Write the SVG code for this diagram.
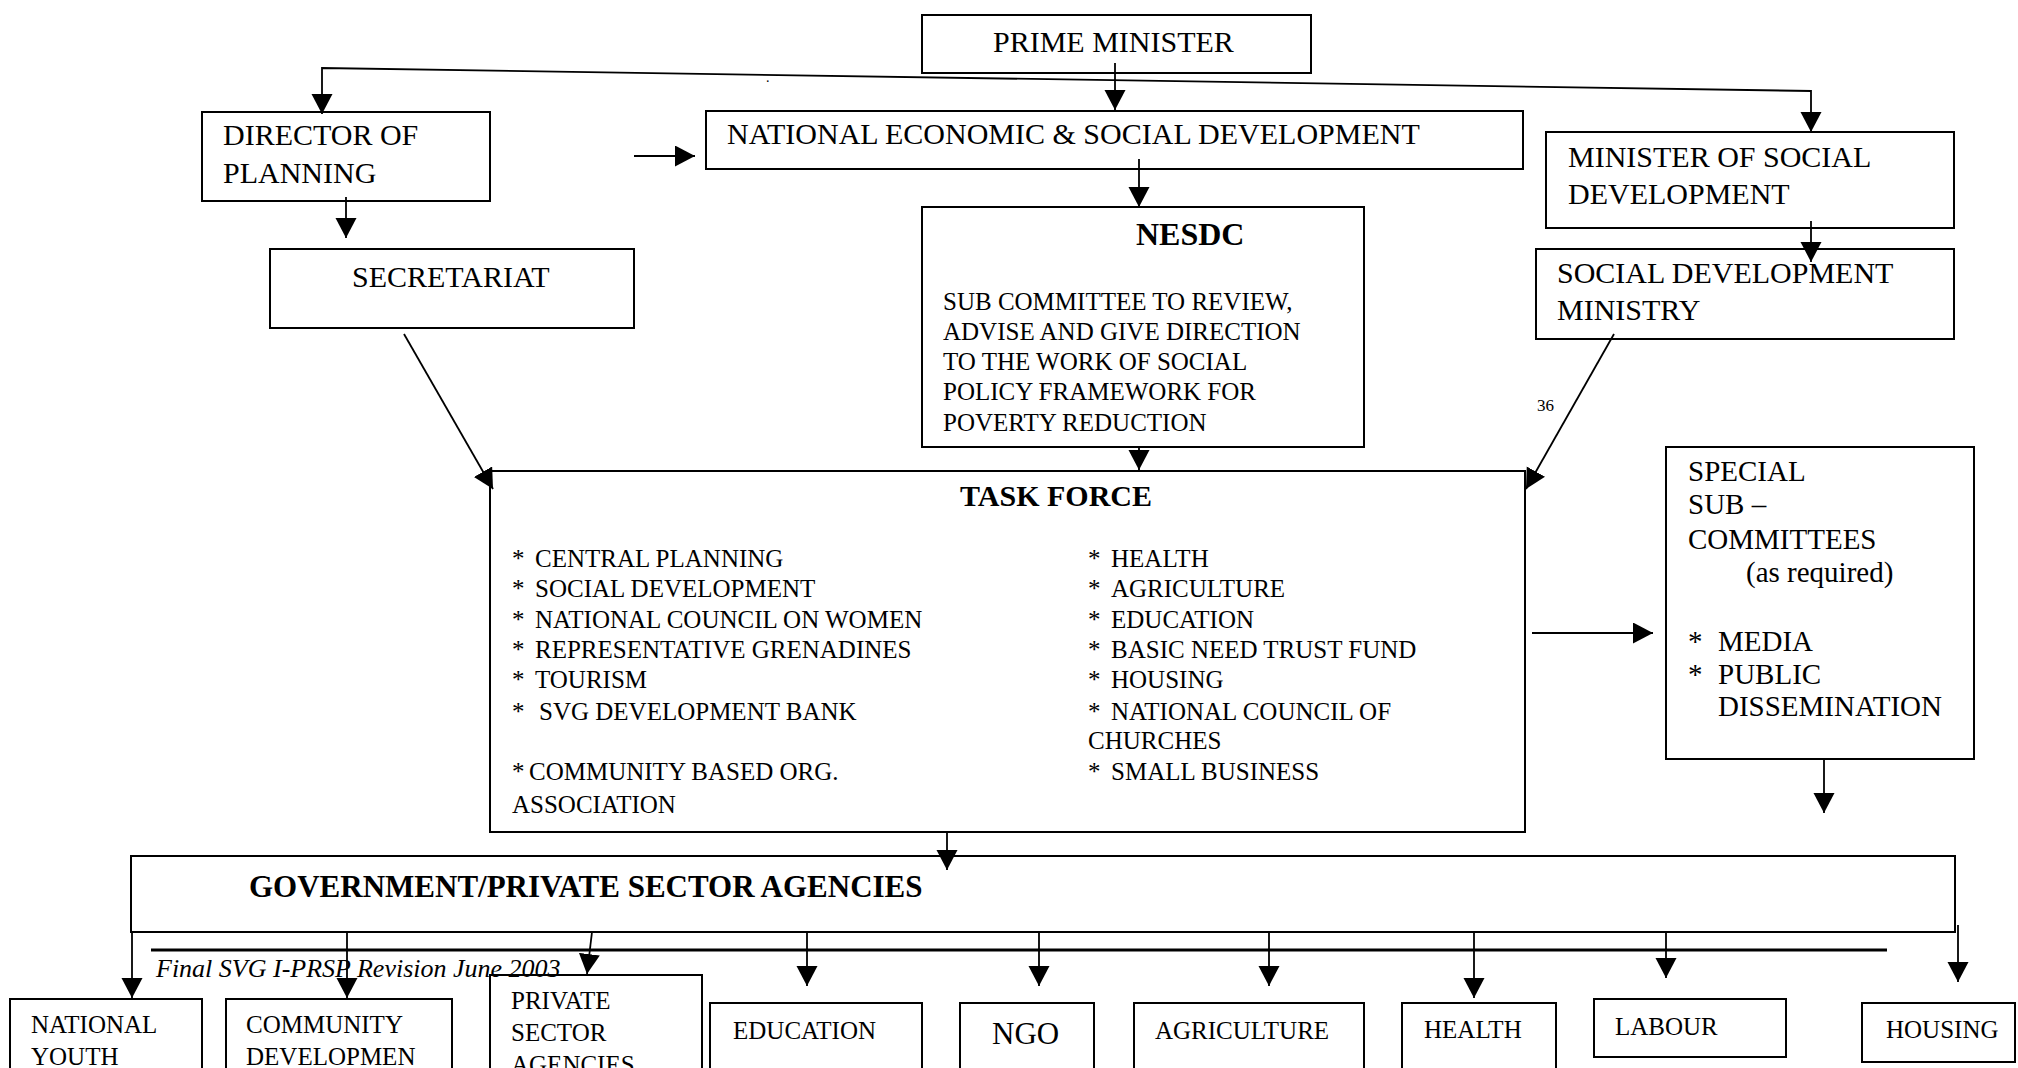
<svg xmlns="http://www.w3.org/2000/svg" width="2018" height="1068" viewBox="0 0 2018 1068">
<style>
  text { font-family: "Liberation Serif", "Times New Roman", serif; fill: #000; }
  .box { fill: #fff; stroke: #000; stroke-width: 2; }
  .t30 { font-size: 30px; }
  .t29 { font-size: 29px; }
  .t25 { font-size: 25px; }
  .b30 { font-size: 30px; font-weight: bold; }
  .con { fill: none; stroke: #000; stroke-width: 1.8; }
  .thick { fill: none; stroke: #000; stroke-width: 3; }
</style>
<defs>
  <marker id="ah" markerUnits="userSpaceOnUse" markerWidth="22" markerHeight="22" refX="20" refY="10.5" orient="auto-start-reverse">
    <path d="M0,0 L20,10.5 L0,21 Z" fill="#000"/>
  </marker>
</defs>
<rect width="2018" height="1068" fill="#fff"/>

<g id="prime-minister">
  <rect class="box" x="922" y="15" width="389" height="58"/>
  <text class="t30" x="993" y="52">PRIME MINISTER</text>
</g>
<g id="director-of-planning">
  <rect class="box" x="202" y="112" width="288" height="89"/>
  <text class="t30" x="223" y="145">DIRECTOR OF</text>
  <text class="t30" x="223" y="183">PLANNING</text>
</g>
<g id="secretariat">
  <rect class="box" x="270" y="249" width="364" height="79"/>
  <text class="t30" x="352" y="287">SECRETARIAT</text>
</g>
<g id="national-economic">
  <rect class="box" x="706" y="111" width="817" height="58"/>
  <text class="t30" x="727" y="144">NATIONAL ECONOMIC &amp; SOCIAL DEVELOPMENT</text>
</g>
<g id="nesdc">
  <rect class="box" x="922" y="207" width="442" height="240"/>
  <text class="b30" x="1136" y="245" style="font-size:32px">NESDC</text>
  <text class="t25" x="943" y="310">SUB COMMITTEE TO REVIEW,</text>
  <text class="t25" x="943" y="340">ADVISE AND GIVE DIRECTION</text>
  <text class="t25" x="943" y="370">TO THE WORK OF SOCIAL</text>
  <text class="t25" x="943" y="400">POLICY FRAMEWORK FOR</text>
  <text class="t25" x="943" y="431">POVERTY REDUCTION</text>
</g>
<g id="minister-social-development">
  <rect class="box" x="1546" y="132" width="408" height="96"/>
  <text class="t30" x="1568" y="167">MINISTER OF SOCIAL</text>
  <text class="t30" x="1568" y="204">DEVELOPMENT</text>
</g>
<g id="social-development-ministry">
  <rect class="box" x="1536" y="249" width="418" height="90"/>
  <text class="t30" x="1557" y="283">SOCIAL DEVELOPMENT</text>
  <text class="t30" x="1557" y="320">MINISTRY</text>
</g>
<g id="task-force">
  <rect class="box" x="490" y="471" width="1035" height="361"/>
  <text class="b30" x="960" y="506">TASK FORCE</text>
  <text class="t25" x="512" y="567">*<tspan x="535">CENTRAL PLANNING</tspan></text>
  <text class="t25" x="512" y="597">*<tspan x="535">SOCIAL DEVELOPMENT</tspan></text>
  <text class="t25" x="512" y="628">*<tspan x="535">NATIONAL COUNCIL ON WOMEN</tspan></text>
  <text class="t25" x="512" y="658">*<tspan x="535">REPRESENTATIVE GRENADINES</tspan></text>
  <text class="t25" x="512" y="688">*<tspan x="535">TOURISM</tspan></text>
  <text class="t25" x="512" y="720">*<tspan x="539">SVG DEVELOPMENT BANK</tspan></text>
  <text class="t25" x="512" y="780">*<tspan x="529">COMMUNITY BASED ORG.</tspan></text>
  <text class="t25" x="512" y="813">ASSOCIATION</text>
  <text class="t25" x="1088" y="567">*<tspan x="1111">HEALTH</tspan></text>
  <text class="t25" x="1088" y="597">*<tspan x="1111">AGRICULTURE</tspan></text>
  <text class="t25" x="1088" y="628">*<tspan x="1111">EDUCATION</tspan></text>
  <text class="t25" x="1088" y="658">*<tspan x="1111">BASIC NEED TRUST FUND</tspan></text>
  <text class="t25" x="1088" y="688">*<tspan x="1111">HOUSING</tspan></text>
  <text class="t25" x="1088" y="720">*<tspan x="1111">NATIONAL COUNCIL OF</tspan></text>
  <text class="t25" x="1088" y="749">CHURCHES</text>
  <text class="t25" x="1088" y="780">*<tspan x="1111">SMALL BUSINESS</tspan></text>
</g>
<g id="special-sub-committees">
  <rect class="box" x="1666" y="447" width="308" height="312"/>
  <text class="t29" x="1688" y="481">SPECIAL</text>
  <text class="t29" x="1688" y="514">SUB –</text>
  <text class="t29" x="1688" y="549">COMMITTEES</text>
  <text class="t29" x="1746" y="582">(as required)</text>
  <text class="t29" x="1688" y="651">*<tspan x="1718">MEDIA</tspan></text>
  <text class="t29" x="1688" y="684">*<tspan x="1718">PUBLIC</tspan></text>
  <text class="t29" x="1718" y="716">DISSEMINATION</text>
</g>
<g id="government-private-sector-agencies">
  <rect class="box" x="131" y="856" width="1824" height="76"/>
  <text class="b30" x="249" y="897" style="font-size:31px">GOVERNMENT/PRIVATE SECTOR AGENCIES</text>
</g>
<g id="national-youth">
  <rect class="box" x="10" y="999" width="192" height="90"/>
  <text class="t25" x="31" y="1033">NATIONAL</text>
  <text class="t25" x="31" y="1065">YOUTH</text>
</g>
<g id="community-development">
  <rect class="box" x="226" y="999" width="226" height="90"/>
  <text class="t25" x="246" y="1033">COMMUNITY</text>
  <text class="t25" x="246" y="1065">DEVELOPMEN</text>
</g>
<g id="private-sector-agencies">
  <rect class="box" x="490" y="975" width="212" height="110"/>
  <text class="t25" x="511" y="1009">PRIVATE</text>
  <text class="t25" x="511" y="1041">SECTOR</text>
  <text class="t25" x="511" y="1073">AGENCIES</text>
</g>
<g id="education">
  <rect class="box" x="710" y="1003" width="212" height="90"/>
  <text class="t25" x="733" y="1039">EDUCATION</text>
</g>
<g id="ngo">
  <rect class="box" x="960" y="1003" width="134" height="90"/>
  <text class="t25" x="992" y="1044" style="font-size:31px">NGO</text>
</g>
<g id="agriculture">
  <rect class="box" x="1134" y="1003" width="230" height="90"/>
  <text class="t25" x="1155" y="1039">AGRICULTURE</text>
</g>
<g id="health">
  <rect class="box" x="1402" y="1003" width="154" height="90"/>
  <text class="t25" x="1424" y="1038">HEALTH</text>
</g>
<g id="labour">
  <rect class="box" x="1594" y="999" width="192" height="58"/>
  <text class="t25" x="1615" y="1035">LABOUR</text>
</g>
<g id="housing">
  <rect class="box" x="1862" y="1003" width="153" height="59"/>
  <text class="t25" x="1886" y="1038">HOUSING</text>
</g>

<g id="connectors">
  <polyline class="con" points="322,114 322,68 1811,91 1811,132" marker-start="url(#ah)" marker-end="url(#ah)"/>
  <line class="con" x1="1115" y1="63" x2="1115" y2="110" marker-end="url(#ah)"/>
  <line class="con" x1="346" y1="197" x2="346" y2="238" marker-end="url(#ah)"/>
  <line class="con" x1="634" y1="156" x2="695" y2="156" marker-end="url(#ah)"/>
  <line class="con" x1="1139" y1="159" x2="1139" y2="207" marker-end="url(#ah)"/>
  <line class="con" x1="1811" y1="221" x2="1811" y2="262" marker-end="url(#ah)"/>
  <line class="con" x1="1139" y1="447" x2="1139" y2="470" marker-end="url(#ah)"/>
  <line class="con" x1="404" y1="334" x2="493" y2="489" marker-end="url(#ah)"/>
  <line class="con" x1="1614" y1="334" x2="1526" y2="489" marker-end="url(#ah)"/>
  <line class="con" x1="1532" y1="633" x2="1653" y2="633" marker-end="url(#ah)"/>
  <line class="con" x1="1824" y1="759" x2="1824" y2="813" marker-end="url(#ah)"/>
  <line class="con" x1="947" y1="832" x2="947" y2="870" marker-end="url(#ah)"/>
  <line class="con" x1="132" y1="932" x2="132" y2="998" marker-end="url(#ah)"/>
  <line class="con" x1="347" y1="932" x2="347" y2="998" marker-end="url(#ah)"/>
  <line class="con" x1="592" y1="932" x2="587" y2="974" marker-end="url(#ah)"/>
  <line class="con" x1="807" y1="932" x2="807" y2="986" marker-end="url(#ah)"/>
  <line class="con" x1="1039" y1="932" x2="1039" y2="986" marker-end="url(#ah)"/>
  <line class="con" x1="1269" y1="932" x2="1269" y2="986" marker-end="url(#ah)"/>
  <line class="con" x1="1474" y1="932" x2="1474" y2="998" marker-end="url(#ah)"/>
  <line class="con" x1="1666" y1="932" x2="1666" y2="978" marker-end="url(#ah)"/>
  <line class="con" x1="1958" y1="925" x2="1958" y2="982" marker-end="url(#ah)"/>
</g>

<line class="thick" x1="151" y1="950" x2="1887" y2="950"/>
<text x="156" y="977" style="font-size:26px; font-style:italic">Final SVG  I-PRSP Revision June 2003</text>
<text x="1537" y="411" style="font-size:17px">36</text>
<text x="766" y="82" style="font-size:14px">.</text>
</svg>
